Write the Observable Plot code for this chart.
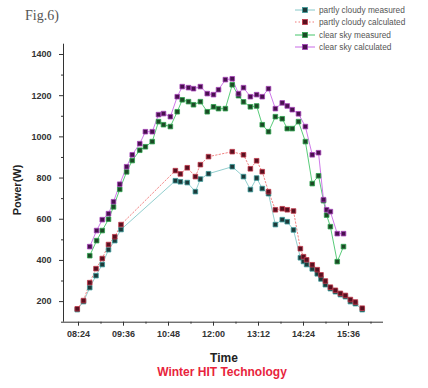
<!DOCTYPE html>
<html>
<head>
<meta charset="utf-8">
<script src="https://cdn.jsdelivr.net/npm/d3@7"></script>
<script src="https://cdn.jsdelivr.net/npm/@observablehq/plot@0.6"></script>
<style>
  html, body { margin: 0; padding: 0; background: #fff; }
  #wrap { position: relative; width: 428px; height: 388px; overflow: hidden; background: #fff; }
  #wrap svg.plot { position: absolute; left: 0; top: 0; }
  .t { position: absolute; white-space: nowrap; font-family: "Liberation Sans", Arial, sans-serif; }
  #legend { position: absolute; left: 294px; top: 4px; font-family: "Liberation Sans", Arial, sans-serif; font-size: 8.3px; color: #555; }
  #legend .row { display: flex; align-items: center; height: 12.3px; }
  #legend svg { margin-right: 3px; }
</style>
</head>
<body>
<div id="wrap">
  <div class="t" style="left:25px; top:8px; font-family:'Liberation Serif','DejaVu Serif',serif; font-size:14px; color:#555;">Fig.6)</div>
  <div id="legend"></div>
  <div class="t" style="left:17px; top:190px; transform:translate(-50%,-50%) rotate(-90deg); font-size:11px; font-weight:bold; color:#222;">Power(W)</div>
  <div class="t" style="left:224px; top:358px; transform:translate(-50%,-50%); font-size:12px; font-weight:bold; color:#222;">Time</div>
  <div class="t" style="left:222px; top:372px; transform:translate(-50%,-50%); font-size:12px; font-weight:bold; color:#e8243c;">Winter HIT Technology</div>
</div>
<script>
// ---- data ----
const pcTimes = ["08:22","08:32","08:42","08:52","09:02","09:12","09:22","09:32",
  "10:59","11:07","11:18","11:31","11:39","11:52","12:30","12:48","12:59","13:09","13:18","13:28",
  "13:39","13:50","13:58","14:08","14:19","14:24","14:29","14:38","14:46","14:52","14:59","15:07",
  "15:15","15:23","15:31","15:39","15:47","15:58"];
const pcMeasured = [161,200,268,326,380,452,496,550,
  787,782,778,734,795,821,855,807,744,800,749,724,
  574,598,588,548,413,395,380,359,335,310,282,263,
  248,234,224,200,190,161];
const pcCalculated = [165,205,292,360,409,477,515,574,
  836,820,850,807,865,904,928,913,845,884,831,734,
  646,651,646,640,457,418,403,379,355,330,300,270,
  255,240,230,210,198,168];

const csTimes = ["08:42","08:53","09:02","09:12","09:20","09:30","09:41","09:50","10:02","10:11",
  "10:22","10:32","10:40","10:51","11:02","11:10","11:20","11:28","11:39","11:50",
  "12:00","12:08","12:19","12:30","12:40","12:48","12:59","13:09","13:18","13:28",
  "13:39","13:50","13:58","14:06","14:16","14:27","14:38","14:48","14:56","15:01",
  "15:07","15:18","15:28"];
const csMeasured = [423,496,545,600,660,745,830,885,935,952,
  977,1074,1059,1050,1122,1180,1171,1156,1171,1122,
  1146,1137,1137,1253,1200,1170,1146,1150,1059,1025,
  1098,1088,1040,1040,1074,977,773,811,690,620,
  564,394,467];
const csCalculated = [467,545,598,627,685,770,855,913,967,1025,
  1025,1108,1113,1098,1195,1244,1239,1234,1244,1210,
  1205,1229,1278,1282,1210,1239,1195,1205,1195,1234,
  1137,1165,1150,1132,1112,1050,913,923,695,646,
  637,530,530];

const seriesNames = ["partly cloudy measured","partly cloudy calculated","clear sky measured","clear sky calculated"];
const majorTimes = ["08:24","09:36","10:48","12:00","13:12","14:24","15:36"];
const minorTimes = ["09:00","10:12","11:24","12:36","13:48","15:00","16:12"];
const majorY = [200,400,600,800,1000,1200,1400];
const minorY = [100,300,500,700,900,1100,1300];

// ---- helpers ----
const toMin = s => { const [h, m] = s.split(":").map(Number); return h * 60 + m; };
const fmt = v => String(Math.floor(v / 60)).padStart(2, "0") + ":" + String(Math.round(v % 60)).padStart(2, "0");

const styles = [
  {line: "#86c8c8", fill: "#1d3a3a", stroke: "#3b9a9a", dash: null},
  {line: "#f07878", fill: "#5a1020", stroke: "#c0384a", dash: "1.5,2"},
  {line: "#45c56a", fill: "#1c4a26", stroke: "#2fa44f", dash: null},
  {line: "#c86ae6", fill: "#4a1050", stroke: "#a443b8", dash: null}
];
const sets = [
  [pcTimes, pcMeasured], [pcTimes, pcCalculated], [csTimes, csMeasured], [csTimes, csCalculated]
];
const data = sets.map(([t, v], i) => t.map((s, j) => ({t: toMin(s), v: v[j], s: seriesNames[i]})));

const marks = [];
data.forEach((d, i) => {
  const st = styles[i];
  marks.push(Plot.line(d, {x: "t", y: "v", stroke: st.line, strokeWidth: 0.9, strokeDasharray: st.dash}));
});
data.forEach((d, i) => {
  const st = styles[i];
  marks.push(Plot.dot(d, {x: "t", y: "v", symbol: "square", r: 2.6, fill: st.fill, stroke: st.stroke, strokeWidth: 0.8}));
});

const chart = Plot.plot({
  width: 428, height: 388,
  marginLeft: 63, marginRight: 45, marginTop: 43.7, marginBottom: 66.3,
  x: {type: "linear", domain: [toMin("08:00"), toMin("16:32")]},
  y: {domain: [100, 1450]},
  style: {fontFamily: "'Liberation Sans', Arial, sans-serif", fontSize: "9px", fontWeight: "bold", color: "#333", background: "transparent"},
  marks: [
    Plot.axisX({ticks: majorTimes.map(toMin), tickFormat: fmt, tickSize: 4, tickPadding: 4, label: null, stroke: "#333"}),
    Plot.axisX({ticks: minorTimes.map(toMin), tickFormat: () => "", tickSize: 2, label: null, stroke: "#333"}),
    Plot.axisY({ticks: majorY, tickFormat: d => String(d), tickSize: 4, tickPadding: 8, label: null, stroke: "#333"}),
    Plot.axisY({ticks: minorY, tickFormat: () => "", tickSize: 2, label: null, stroke: "#333"}),
    Plot.ruleX([toMin("08:00")], {stroke: "#333", strokeWidth: 1}),
    Plot.ruleY([100], {stroke: "#333", strokeWidth: 1}),
    ...marks
  ]
});
chart.classList.add("plot");
document.getElementById("wrap").prepend(chart);

// ---- legend ----
const leg = document.getElementById("legend");
seriesNames.forEach((name, i) => {
  const st = styles[i];
  const row = document.createElement("div");
  row.className = "row";
  row.innerHTML = `<svg width="22" height="10"><line x1="1" y1="5" x2="21" y2="5" stroke="${st.line}" stroke-width="1" ${st.dash ? `stroke-dasharray="${st.dash}"` : ""}/><rect x="8.5" y="2.5" width="5" height="5" fill="${st.fill}" stroke="${st.stroke}" stroke-width="0.8"/></svg><span>${name}</span>`;
  leg.appendChild(row);
});
</script>
</body>
</html>
